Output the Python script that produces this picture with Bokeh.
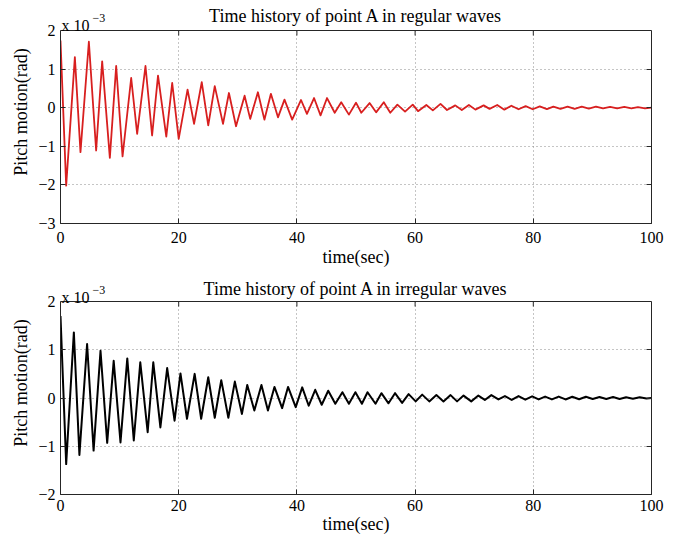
from bokeh.plotting import figure
from bokeh.layouts import column
from bokeh.models import (Range1d, FixedTicker, LinearAxis, Label, CustomJSTickFormatter,
                          Span, BoxAnnotation)
from bokeh.embed import file_html
from bokeh.resources import INLINE

# ---- data (pitch motion, in units of 1e-3 rad) (local extrema) ----
t_regular = [0, 0.96, 2.43, 3.38, 4.8, 6.03, 7.05, 8.35, 9.42, 10.5, 11.96, 12.97, 14.38, 15.5,
             16.5, 17.9, 18.9, 20.0, 21.5, 22.6, 23.9, 25.0, 26.1, 27.5, 28.5, 29.7, 31.15, 32.1,
             33.4, 34.5, 35.6, 36.8, 37.9, 39.2, 40.7, 41.7, 42.9, 44.0, 45.1, 46.4, 47.5, 48.8,
             50.0, 50.9, 52.3, 53.4, 54.7, 55.8, 57.0, 58.3, 59.6, 60.5, 61.9, 63.0, 64.3, 65.4,
             66.8, 67.9, 69.1, 70.2, 71.6, 72.6, 73.9, 75.1, 76.3, 77.5, 78.7, 79.9, 81.1, 82.3,
             83.4, 84.6, 85.8, 87.0, 88.2, 89.4, 90.6, 91.8, 93.0, 94.2, 95.4, 96.6, 97.7, 98.9, 100]
pitch_regular = [1.74, -2.02, 1.31, -1.15, 1.71, -1.11, 1.20, -1.30, 1.08, -1.26, 0.77, -0.68,
                 1.08, -0.72, 0.83, -0.75, 0.64, -0.81, 0.47, -0.42, 0.66, -0.46, 0.56, -0.42,
                 0.38, -0.48, 0.31, -0.29, 0.40, -0.31, 0.36, -0.25, 0.21, -0.31, 0.20, -0.16,
                 0.25, -0.20, 0.25, -0.13, 0.14, -0.18, 0.13, -0.13, 0.12, -0.12, 0.14, -0.13,
                 0.08, -0.10, 0.08, -0.09, 0.07, -0.07, 0.10, -0.06, 0.06, -0.06, 0.07, -0.05,
                 0.06, -0.03, 0.07, -0.05, 0.05, -0.04, 0.04, -0.04, 0.035, -0.035, 0.03, -0.03,
                 0.03, -0.03, 0.025, -0.025, 0.025, -0.02, 0.02, -0.02, 0.02, -0.02, 0.015,
                 -0.015, 0.0]

t_irregular = [0, 0.96, 2.26, 3.2, 4.5, 5.6, 6.77, 7.9, 9.0, 10.15, 11.3, 12.4, 13.5, 14.75,
               15.7, 16.9, 18.05, 19.3, 20.3, 21.4, 22.7, 23.8, 25.0, 26.1, 27.2, 28.4, 29.5,
               30.7, 31.6, 32.8, 34.0, 35.1, 36.2, 37.5, 38.5, 39.8, 40.9, 42.0, 43.1, 44.2,
               45.3, 46.5, 47.7, 48.8, 49.9, 51.0, 51.95, 53.3, 54.3, 55.5, 56.6, 57.8, 58.9,
               60.1, 61.2, 62.4, 63.6, 64.8, 66.0, 67.1, 68.2, 69.5, 70.7, 71.8, 72.9, 74.1,
               75.2, 76.35, 77.5, 78.65, 79.8, 80.9, 82.0, 83.15, 84.3, 85.45, 86.6, 87.75,
               88.9, 90.05, 91.2, 92.35, 93.5, 94.6, 95.7, 96.85, 98.0, 99.15, 100]
pitch_irregular = [1.70, -1.37, 1.36, -1.18, 1.12, -1.09, 0.98, -0.93, 0.77, -0.92, 0.82, -0.88,
                   0.74, -0.71, 0.74, -0.61, 0.62, -0.47, 0.51, -0.43, 0.50, -0.43, 0.43, -0.41,
                   0.37, -0.41, 0.34, -0.33, 0.27, -0.26, 0.27, -0.26, 0.23, -0.21, 0.23, -0.19,
                   0.22, -0.16, 0.17, -0.14, 0.15, -0.12, 0.12, -0.12, 0.12, -0.12, 0.12, -0.12,
                   0.10, -0.11, 0.10, -0.10, 0.08, -0.07, 0.07, -0.07, 0.06, -0.07, 0.06, -0.07,
                   0.05, -0.07, 0.05, -0.04, 0.06, -0.03, 0.04, -0.04, 0.04, -0.035, 0.035, -0.03,
                   0.03, -0.03, 0.03, -0.03, 0.025, -0.025, 0.025, -0.02, 0.02, -0.02, 0.02, -0.02,
                   0.015, -0.015, 0.015, -0.01, 0.0]

x_ticks = [0, 20, 40, 60, 80, 100]
y_ticks_regular = [-3, -2, -1, 0, 1, 2]
y_ticks_irregular = [-2, -1, 0, 1, 2]
title_regular = "Time history of point A in regular waves"
title_irregular = "Time history of point A in irregular waves"
x_label = "time(sec)"
y_label = "Pitch motion(rad)"
scale_text = "x 10"
scale_exp = "\u22123"

FONT = "Liberation Serif"
AX = "#262626"
FRAME_W = 591
AXES_H = 193

num_fmt = CustomJSTickFormatter(code="return tick < 0 ? '\u2212' + (-tick) : String(tick);")
blank_fmt = CustomJSTickFormatter(code="return '';")


def style_axis(ax):
    ax.axis_line_color = AX
    ax.major_tick_line_color = AX
    ax.major_tick_in = 5
    ax.major_tick_out = 0
    ax.minor_tick_line_color = None
    ax.major_label_text_font = FONT
    ax.major_label_text_font_size = "16px"
    ax.major_label_text_color = "black"
    ax.axis_label_text_font = FONT
    ax.axis_label_text_font_size = "18px"
    ax.axis_label_text_font_style = "normal"
    ax.axis_label_text_color = "black"


def make_fig(title, t, v, color, width, yticks, head, bottom_b, tick_standoff, lab_standoff,
             title_off, scale_off):
    ymin, ymax = yticks[0], yticks[-1]
    # extra headroom (in px) above the axes box holds the title and the scale factor
    y_end = ymax + head * (ymax - ymin) / AXES_H
    p = figure(frame_width=FRAME_W, frame_height=AXES_H + head,
               x_range=Range1d(x_ticks[0], x_ticks[-1]), y_range=Range1d(ymin, y_end),
               output_backend="svg", toolbar_location=None,
               min_border_left=60, min_border_right=25,
               min_border_top=0, min_border_bottom=bottom_b)
    p.outline_line_color = None
    p.background_fill_color = "white"
    p.border_fill_color = "white"

    p.xaxis.ticker = FixedTicker(ticks=x_ticks)
    p.yaxis.ticker = FixedTicker(ticks=yticks)
    p.yaxis.formatter = num_fmt
    p.xaxis.formatter = num_fmt
    for ax in p.xaxis + p.yaxis:
        style_axis(ax)
    p.yaxis.bounds = (ymin, ymax)
    p.xaxis.axis_label = x_label
    p.xaxis.major_label_standoff = tick_standoff
    p.xaxis.axis_label_standoff = lab_standoff
    p.yaxis.axis_label = y_label
    p.yaxis.major_label_standoff = 5
    p.yaxis.axis_label_standoff = 4

    right_ax = LinearAxis(ticker=FixedTicker(ticks=yticks), formatter=blank_fmt,
                          major_label_standoff=0, bounds=(ymin, ymax))
    style_axis(right_ax)
    p.add_layout(right_ax, "right")

    p.xgrid.ticker = FixedTicker(ticks=x_ticks)
    p.ygrid.ticker = FixedTicker(ticks=yticks)
    for g in (p.xgrid, p.ygrid):
        g.grid_line_color = "#8a8a8a"
        g.grid_line_dash = "1 3"
        g.grid_line_width = 1

    p.line(t, v, line_color=color, line_width=width, line_join="round")

    # top edge of the axes box and its inward ticks
    p.add_layout(BoxAnnotation(bottom=ymax, fill_color="white", fill_alpha=1.0,
                               line_color=None))
    p.add_layout(Span(location=ymax, dimension="width", line_color=AX, line_width=1))
    p.ray(x=x_ticks, y=[ymax] * len(x_ticks), length=5, length_units="screen",
          angle=-90, angle_units="deg", line_color=AX, line_width=1)

    x_mid = (x_ticks[0] + x_ticks[-1]) / 2
    p.add_layout(Label(x=x_mid, y=ymax, y_offset=title_off, text=title, text_align="center",
                       text_font=FONT, text_font_size="18px", text_baseline="alphabetic",
                       text_color="black"))
    p.add_layout(Label(x=x_ticks[0], y=ymax, x_offset=1, y_offset=scale_off, text=scale_text,
                       text_font=FONT, text_font_size="16px", text_baseline="alphabetic",
                       text_color="black"))
    p.add_layout(Label(x=x_ticks[0], y=ymax, x_offset=32, y_offset=scale_off + 8,
                       text=scale_exp, text_font=FONT, text_font_size="12px",
                       text_baseline="alphabetic", text_color="black"))
    return p


p1 = make_fig(title_regular, t_regular, pitch_regular, "#d81f1f", 1.8, y_ticks_regular,
              head=30, bottom_b=48, tick_standoff=8, lab_standoff=1, title_off=15, scale_off=5)
p2 = make_fig(title_irregular, t_irregular, pitch_irregular, "black", 2.0, y_ticks_irregular,
              head=30, bottom_b=43, tick_standoff=5, lab_standoff=0, title_off=13, scale_off=4)

layout = column(p1, p2, spacing=0)
open("out.html", "w").write(file_html(layout, INLINE))
